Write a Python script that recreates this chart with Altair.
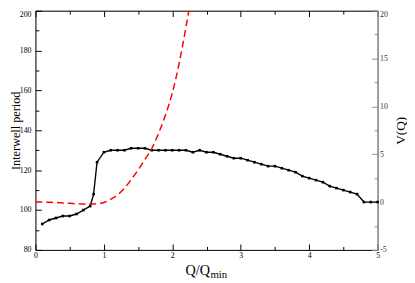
import altair as alt
import pandas as pd

# Black series: interwell period vs Q/Qmin
q_period = [0.1, 0.2, 0.3, 0.4, 0.5, 0.6, 0.7, 0.8, 0.85, 0.9, 1.0, 1.1, 1.2, 1.3,
            1.4, 1.5, 1.6, 1.7, 1.8, 1.9, 2.0, 2.1, 2.2, 2.3, 2.4, 2.5, 2.6, 2.7,
            2.8, 2.9, 3.0, 3.1, 3.2, 3.3, 3.4, 3.5, 3.6, 3.7, 3.8, 3.9, 4.0, 4.1,
            4.2, 4.3, 4.4, 4.5, 4.6, 4.7, 4.8, 4.9, 5.0]
period = [93, 95, 96, 97, 97, 98, 100, 102, 108, 124, 129, 130, 130, 130,
          131, 131, 131, 130, 130, 130, 130, 130, 130, 129, 130, 129, 129, 128,
          127, 126, 126, 125, 124, 123, 122, 122, 121, 120, 119, 117, 116, 115,
          114, 112, 111, 110, 109, 108, 104, 104, 104]

# Red dashed series: potential V(Q)
q_pot = [0.0, 0.1, 0.2, 0.3, 0.4, 0.5, 0.6, 0.7, 0.8, 0.9, 1.0, 1.1, 1.2, 1.3,
         1.4, 1.5, 1.6, 1.7, 1.8, 1.9, 2.0, 2.1, 2.2, 2.3]
pot = [0.0, 0.0, -0.02, -0.05, -0.09, -0.13, -0.18, -0.2, -0.2, -0.16, -0.05,
       0.3, 0.75, 1.45, 2.35, 3.35, 4.45, 5.6, 7.2, 9.1, 11.4, 14.5, 18.3, 22.5]

x_major = [0, 1, 2, 3, 4, 5]
x_minor = [0.5, 1.5, 2.5, 3.5, 4.5]
yl_major = [80, 100, 120, 140, 160, 180, 200]
yl_minor = [90, 110, 130, 150, 170, 190]
yr_major = [-5, 0, 5, 10, 15, 20]
yr_minor = [-2.5, 2.5, 7.5, 12.5, 17.5]

df_p = pd.DataFrame({"q": q_period, "period": period})
df_v = pd.DataFrame({"q": q_pot, "v": pot})

FONT = "Liberation Serif"
W, H = 349, 244
MAJ = {"expr": "-6"}
MIN = {"expr": "-3.5"}
RGREY = "#888888"


def xs():
    return alt.Scale(domain=[0, 5], nice=False, zero=False)


def yls():
    return alt.Scale(domain=[80, 200], nice=False, zero=False)


def yrs():
    return alt.Scale(domain=[-5, 20], nice=False, zero=False)


lab = dict(labelFont=FONT, labelFontSize=8, labelOverlap=False, labelFlush=False,
           labelExpr="'' + datum.value")

black = alt.Chart(df_p).mark_line(
    color="black", strokeWidth=1.4,
    point=alt.OverlayMarkDef(filled=True, size=7, color="black", shape="square"),
).encode(
    x=alt.X("q:Q", scale=xs(), axis=alt.Axis(
        orient="bottom", values=x_major, title=None, grid=False,
        tickSize=MAJ, labelPadding=7.5, labelColor="black",
        domainColor="black", tickColor="black", domainWidth=1, **lab)),
    y=alt.Y("period:Q", scale=yls(), axis=alt.Axis(
        orient="left", values=yl_major, grid=False,
        tickSize=MAJ, labelPadding=10.5, labelColor="black",
        labelBaseline={"condition": {"test": "datum.value === 200", "value": "top"},
                       "value": "middle"},
        domainColor="black", tickColor="black", domainWidth=1,
        title="Interwell period", titleFont=FONT, titleFontSize=12.5,
        titleFontWeight="normal", titleColor="black",
        titleAngle=270, titleBaseline="alphabetic", titleAlign="center",
        titleX=-16.5, titleY=H / 2, **lab)),
)

red = alt.Chart(df_v).mark_line(
    color="#ff0000", strokeWidth=1.5, strokeDash=[7, 4], clip=True,
    interpolate="monotone",
).encode(
    x=alt.X("q:Q", scale=xs(), axis=alt.Axis(
        orient="top", values=x_major, title=None, grid=False, labels=False,
        tickSize=MAJ, domainColor="black", tickColor="black", domainWidth=1)),
    y=alt.Y("v:Q", scale=yrs(), axis=alt.Axis(
        orient="right", values=yr_major, grid=False,
        tickSize=MAJ, labelPadding=8, labelColor="#333333",
        labelBaseline={"condition": {"test": "datum.value === 20", "value": "top"},
                       "value": "middle"},
        domainColor=RGREY, tickColor=RGREY, domainWidth=1.6,
        title="V(Q)", titleFont=FONT, titleFontSize=13.5,
        titleFontWeight="normal", titleColor="black",
        titleAngle=270, titleBaseline="middle", titleAlign="center",
        titleX=23.5, titleY=H / 2, **lab)),
)

minor_a = alt.Chart(df_p).mark_point(opacity=0).encode(
    x=alt.X("q:Q", scale=xs(), axis=alt.Axis(
        orient="bottom", values=x_minor, title=None, grid=False, labels=False,
        domain=False, tickSize=MIN, tickColor="black")),
    y=alt.Y("period:Q", scale=yls(), axis=alt.Axis(
        orient="left", values=yl_minor, title=None, grid=False, labels=False,
        domain=False, tickSize=MIN, tickColor="black")),
)

minor_b = alt.Chart(df_v).mark_point(opacity=0, clip=True).encode(
    x=alt.X("q:Q", scale=xs(), axis=alt.Axis(
        orient="top", values=x_minor, title=None, grid=False, labels=False,
        domain=False, tickSize=MIN, tickColor="black")),
    y=alt.Y("v:Q", scale=yrs(), axis=alt.Axis(
        orient="right", values=yr_minor, title=None, grid=False, labels=False,
        domain=False, tickSize=MIN, tickColor=RGREY)),
)

t1 = alt.Chart(pd.DataFrame({"t": ["Q/Q"]})).mark_text(
    font=FONT, fontSize=14.5, align="right", baseline="alphabetic", color="black"
).encode(x=alt.value(178), y=alt.value(269.5), text="t:N")
t2 = alt.Chart(pd.DataFrame({"t": ["min"]})).mark_text(
    font=FONT, fontSize=11, align="left", baseline="alphabetic", color="black"
).encode(x=alt.value(178.5), y=alt.value(273), text="t:N")

chart = alt.layer(minor_a, minor_b, black, red, t1, t2).resolve_scale(
    x="independent", y="independent"
).resolve_axis(
    x="independent", y="independent"
).properties(
    width=W, height=H, autosize="none",
    padding={"left": 28, "top": 0, "right": 30, "bottom": 31},
).configure_view(stroke=None).configure(background="white")

chart.save("out.html", embed_options={"renderer": "svg", "actions": False})
